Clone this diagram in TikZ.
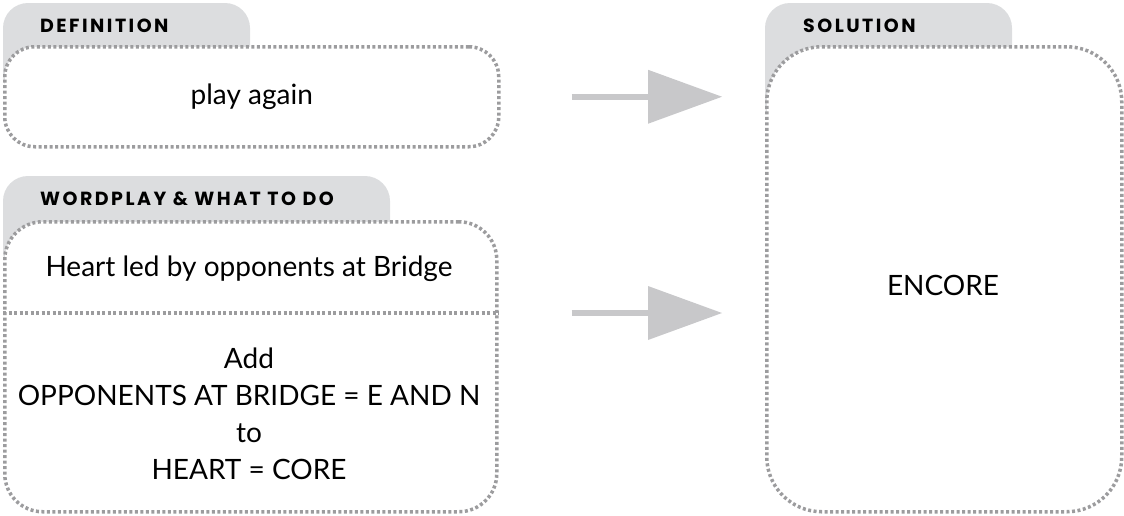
\documentclass[tikz,border=0pt]{standalone}
\usepackage{fontspec}
\setmainfont{Lato}
\newfontfamily\tabfont[LetterSpace=13]{Poppins}
\usepackage{tikz}
\usetikzlibrary{
  % enables the big arrow heads
  arrows.meta,%
  positioning
}
\definecolor{tabgray}{HTML}{DCDDDF}
\definecolor{dotgray}{HTML}{9C9C9E}
\definecolor{arrowgray}{HTML}{C8C8CA}
\tikzset{panel/.style={draw=dotgray, fill=white, line width=3.5pt,
    dash pattern=on 3pt off 2.5pt, rounded corners=#1, anchor=north west,
    inner sep=0pt, font=\fontsize{28}{37}\selectfont}}
\tikzset{dotline/.style={draw=dotgray, line width=3.5pt, dash pattern=on 3pt off 2.5pt}}
\tikzset{tab/.style={fill=tabgray, rounded corners=25pt}}
\tikzset{tabtitle/.style={anchor=west, inner sep=0pt,
    font=\tabfont\bfseries\fontsize{19}{19}\selectfont}}
\tikzset{body/.style={align=center, inner sep=0pt,
    font=\fontsize{28}{37}\selectfont}}
\tikzset{bigarrow/.style={draw=arrowgray, line width=6pt,
    -{Triangle[length=74pt, width=54pt, line width=0pt]}}}

\begin{document}
\begin{tikzpicture}[x=1pt, y=-1pt]
        \useasboundingbox (0,0) rectangle (1124,515); %
        % grey tabs behind the panels
        \fill[tab] (3,3) rectangle (250,100); %
        \fill[tab] (3,176) rectangle (390,276); %
        \fill[tab] (765,3) rectangle (1012,130); %
        \node[tabtitle] (deftitle) at (40,26) {DEFINITION}; %
        \node[tabtitle] (wptitle) at (40,199) {WORDPLAY \& WHAT TO DO}; %
        \node[tabtitle] (soltitle) at (803,26) {SOLUTION}; %
        % panels
        \node[panel=30pt, minimum width=494pt, minimum height=100pt] (def) at (3,45) {play again}; %
        \node[panel=38pt, minimum width=492pt, minimum height=290pt] (wp) at (3,220) {}; %
        \node[panel=55pt, minimum width=355pt, minimum height=465pt] (sol) at (765,45) {}; %
        \coordinate (split) at (3,313); %
        \draw[dotline] (split) -- (split -| wp.east); %
        \node[body] (clue) at (249,269) {Heart led by opponents at Bridge}; %
        \node[body] (steps) at (249,414) {Add\\OPPONENTS AT BRIDGE = E AND N\\to\\HEART = CORE}; %
        \node[body] (answer) at (943,285) {ENCORE}; %
        % arrows into the solution
        \draw[bigarrow, shorten <=71pt, shorten >=43pt] (def.east) -- (def.east -| sol.west); %
        \draw[bigarrow, shorten <=73pt, shorten >=43pt] (split -| wp.east) -- (split -| sol.west); %
      \end{tikzpicture}
\end{document}
